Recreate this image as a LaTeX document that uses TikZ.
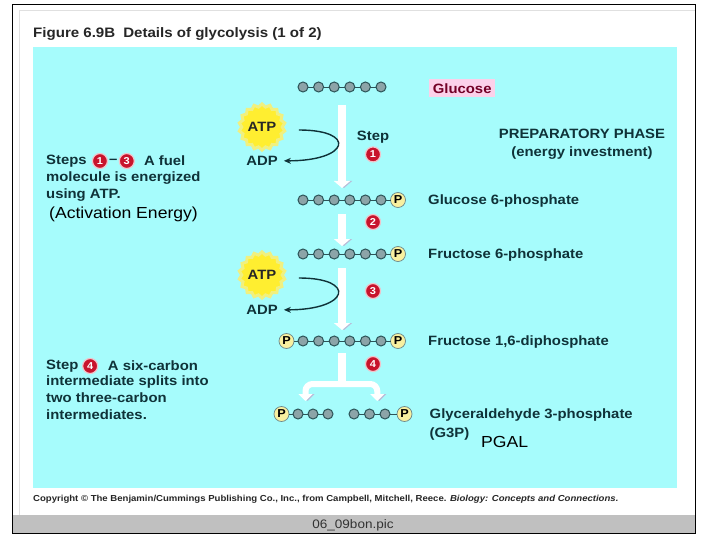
\documentclass[tikz,border=0pt]{standalone}
\usepackage{fontspec}
\setmainfont{Liberation Sans}[FakeStretch=1.1]
\usetikzlibrary{positioning, arrows.meta, shapes.geometric, calc}
\definecolor{panelcol}{HTML}{A6FCFC}
\definecolor{inkcol}{HTML}{0F3238}
\definecolor{barcol}{HTML}{C0C0C0}
\definecolor{carboncol}{HTML}{8CA4A8}
\definecolor{ringcol}{HTML}{2C5458}
\definecolor{phoscol}{HTML}{F8F0A0}
\definecolor{numcol}{HTML}{C8142C}
\definecolor{shadecol}{HTML}{B8BCD8}
\definecolor{atpcol}{HTML}{FFEE30}
\definecolor{halocol}{HTML}{F0F080}

\begin{document}
\begin{tikzpicture}[
        x=1pt, y=-1pt,
        carbon/.style={circle, draw=ringcol, line width=1pt, fill=carboncol, minimum size=10pt, inner sep=0pt, outer sep=0pt},
        phos/.style={circle, draw=ringcol!70, line width=0.7pt, fill=phoscol, minimum size=15pt, inner sep=0pt, outer sep=0pt, font=\fontsize{11.5}{12}\selectfont\bfseries, text=black},
        bond/.style={draw=ringcol, line width=0.9pt},
        txt/.style={inner sep=0pt, anchor=west, text=inkcol, font=\fontsize{13.5}{17}\selectfont\bfseries, align=left},
        added/.style={inner sep=0pt, anchor=west, text=black, font=\fontsize{16}{17}\selectfont},
        num/.style={circle, fill=numcol, draw=numcol!25, line width=1.2pt, minimum size=15pt, inner sep=0pt, text=white, font=\fontsize{10}{10}\selectfont\bfseries},
        atp/.style={star, star points=18, star point ratio=1.14, fill=atpcol, draw=halocol, line width=3pt, minimum size=38pt, inner sep=0pt, text=black!85, font=\fontsize{13.5}{14}\selectfont\bfseries},
        adp/.style={inner sep=0pt, text=inkcol, font=\fontsize{13.5}{14}\selectfont\bfseries},
        flow/.style={draw=white, line width=8pt, preaction={draw=shadecol, transform canvas={xshift=2pt}}},
        curl/.style={draw=inkcol, line width=1.4pt, -{Stealth[length=7pt, width=6pt]}}
    ]
    \useasboundingbox (0,0) rectangle (720,540);
    % Page
    \fill[white] (0,0) rectangle (720,540);
    \fill[panelcol] (33,47) rectangle (677,488);
    \fill[barcol] (13,515) rectangle (695,533);
    \draw[black!12] (19,10) -- (695,10);
    \draw[black!12] (19,10) -- (19,515);
    \draw[black, line width=1pt] (12.5,4.5) rectangle (695.5,533);
    \node[txt, font=\fontsize{13.7}{16}\selectfont\bfseries, text=black!85] (title) at (33,33.5) {Figure 6.9B\hspace{8pt}Details of glycolysis (1 of 2)};

    % Glucose
    \node[carbon] (glu_1) at (303,87) {};
    \node[carbon, right=5.6pt of glu_1] (glu_2) {};
    \node[carbon, right=5.6pt of glu_2] (glu_3) {};
    \node[carbon, right=5.6pt of glu_3] (glu_4) {};
    \node[carbon, right=5.6pt of glu_4] (glu_5) {};
    \node[carbon, right=5.6pt of glu_5] (glu_6) {};
    \draw[bond] (glu_1) -- (glu_2) -- (glu_3) -- (glu_4) -- (glu_5) -- (glu_6);
    \node[rectangle, fill=magenta!18, text=purple!60!black, inner sep=0pt, minimum width=66pt, minimum height=18pt, font=\fontsize{13.5}{16}\selectfont\bfseries, right=43pt of glu_6, yshift=-1.5pt] (glu_name) {Glucose};

    % Glucose 6-phosphate
    \node[carbon, below=103pt of glu_1] (gsp_1) {};
    \node[carbon, right=5.6pt of gsp_1] (gsp_2) {};
    \node[carbon, right=5.6pt of gsp_2] (gsp_3) {};
    \node[carbon, right=5.6pt of gsp_3] (gsp_4) {};
    \node[carbon, right=5.6pt of gsp_4] (gsp_5) {};
    \node[carbon, right=5.6pt of gsp_5] (gsp_6) {};
    \node[phos, right=4.5pt of gsp_6] (gsp_p) {P};
    \draw[bond] (gsp_1) -- (gsp_2) -- (gsp_3) -- (gsp_4) -- (gsp_5) -- (gsp_6) -- (gsp_p);
    \node[txt, right=22.5pt of gsp_p, yshift=-1.5pt] (gsp_name) {Glucose 6-phosphate};

    % Fructose 6-phosphate
    \node[carbon, below=44pt of gsp_1] (fsp_1) {};
    \node[carbon, right=5.6pt of fsp_1] (fsp_2) {};
    \node[carbon, right=5.6pt of fsp_2] (fsp_3) {};
    \node[carbon, right=5.6pt of fsp_3] (fsp_4) {};
    \node[carbon, right=5.6pt of fsp_4] (fsp_5) {};
    \node[carbon, right=5.6pt of fsp_5] (fsp_6) {};
    \node[phos, right=4.5pt of fsp_6] (fsp_p) {P};
    \draw[bond] (fsp_1) -- (fsp_2) -- (fsp_3) -- (fsp_4) -- (fsp_5) -- (fsp_6) -- (fsp_p);
    \node[txt, right=22.5pt of fsp_p, yshift=-1.5pt] (fsp_name) {Fructose 6-phosphate};

    % Fructose 1,6-diphosphate
    \node[carbon, below=77pt of fsp_1] (fdp_1) {};
    \node[carbon, right=5.6pt of fdp_1] (fdp_2) {};
    \node[carbon, right=5.6pt of fdp_2] (fdp_3) {};
    \node[carbon, right=5.6pt of fdp_3] (fdp_4) {};
    \node[carbon, right=5.6pt of fdp_4] (fdp_5) {};
    \node[carbon, right=5.6pt of fdp_5] (fdp_6) {};
    \node[phos, right=4.5pt of fdp_6] (fdp_p) {P};
    \node[phos, left=4pt of fdp_1] (fdp_q) {P};
    \draw[bond] (fdp_q) -- (fdp_1) -- (fdp_2) -- (fdp_3) -- (fdp_4) -- (fdp_5) -- (fdp_6) -- (fdp_p);
    \node[txt, right=22.5pt of fdp_p, yshift=-1.5pt] (fdp_name) {Fructose 1,6-diphosphate};

    % Glyceraldehyde 3-phosphate
    \node[carbon] (g3p_1) at (298,414) {};
    \node[carbon, right=5pt of g3p_1] (g3p_2) {};
    \node[carbon, right=5pt of g3p_2] (g3p_3) {};
    \node[phos, left=4pt of g3p_1] (g3p_q) {P};
    \draw[bond] (g3p_q) -- (g3p_1) -- (g3p_2) -- (g3p_3);
    \node[carbon] (g3p_4) at (354,414) {};
    \node[carbon, right=5.5pt of g3p_4] (g3p_5) {};
    \node[carbon, right=5.5pt of g3p_5] (g3p_6) {};
    \node[phos, right=7pt of g3p_6] (g3p_p) {P};
    \draw[bond] (g3p_4) -- (g3p_5) -- (g3p_6) -- (g3p_p);
    \node[txt, right=17.5pt of g3p_p, yshift=-1.5pt] (g3p_name) {Glyceraldehyde 3-phosphate};
    \node[txt, below=12pt of g3p_name.south west, anchor=west] (g3p_short) {(G3P)};
    \node[added] (pgal) at (481,442) {PGAL};

    % White arrows
    \coordinate (glu_m) at ($(glu_3)!.5!(glu_4)$);
    \coordinate (gsp_m) at ($(gsp_3)!.5!(gsp_4)$);
    \coordinate (fsp_m) at ($(fsp_3)!.5!(fsp_4)$);
    \coordinate (fdp_m) at ($(fdp_3)!.5!(fdp_4)$);
    \coordinate (fork) at ($(fdp_m)+(0,43)$);
    \coordinate (fork_l) at ($(g3p_1)!.5!(g3p_2)+(0,-13)$);
    \coordinate (fork_r) at ($(g3p_5)!.5!(g3p_6)+(0,-13)$);
    \draw[flow, -{Triangle[length=7pt, width=16pt]}, shorten <=18pt, shorten >=12pt] (glu_m) -- (gsp_m);
    \draw[flow, -{Triangle[length=7pt, width=16pt]}, shorten <=14pt, shorten >=8pt] (gsp_m) -- (fsp_m);
    \draw[flow, -{Triangle[length=7pt, width=16pt]}, shorten <=14pt, shorten >=11pt] (fsp_m) -- (fdp_m);
    \draw[flow, shorten <=12pt] (fdp_m) -- (fork);
    \draw[flow, line width=6pt, rounded corners=7pt, {Triangle[length=7pt, width=14pt]}-{Triangle[length=7pt, width=14pt]}] (fork_l) |- (fork) -| (fork_r);

    % Step numbers
    \node[txt, anchor=center] (step_word) at (373,137.5) {Step};
    \node[num, below=2.5pt of step_word] (num_1) {1};
    \node[num] (num_2) at (373,222) {2};
    \node[num] (num_3) at (373,291) {3};
    \node[num] (num_4) at (373,364) {4};

    % ATP and ADP
    \node[atp] (atp_1) at (262,127) {ATP};
    \node[adp, below=29pt of atp_1.center] (adp_1) {ADP};
    \node[atp] (atp_2) at (262,275) {ATP};
    \node[adp, below=30pt of atp_2.center] (adp_2) {ADP};
    \draw[curl] ([xshift=15pt, yshift=-3pt]atp_1.east) .. controls +(58,0) and +(66,0) .. ([xshift=6pt]adp_1.east);
    \draw[curl] ([xshift=15pt, yshift=-3pt]atp_2.east) .. controls +(58,0) and +(66,0) .. ([xshift=6pt]adp_2.east);

    % Phase
    \node[txt, anchor=center] (phase) at (582,134) {PREPARATORY PHASE};
    \node[txt, anchor=center, below=13pt of phase.center] (phase_sub) {(energy investment)};

    % Text on the left
    \node[txt] (s13_a) at (46,161) {Steps};
    \node[num, right=5pt of s13_a] (s13_b) {1};
    \node[txt, right=1pt of s13_b] (s13_c) {--};
    \node[num, right=1pt of s13_c] (s13_d) {3};
    \node[txt, right=9pt of s13_d] (s13_e) {A fuel};
    \node[txt, below=11pt of s13_a.west, anchor=north west] (s13_f) {molecule is energized\\using ATP.};
    \node[added] (activ) at (49,214.5) {(Activation Energy)};
    \node[txt] (s4_a) at (46,366) {Step};
    \node[num, right=3.5pt of s4_a] (s4_b) {4};
    \node[txt, right=9.5pt of s4_b] (s4_c) {A six-carbon};
    \node[txt, below=10pt of s4_a.west, anchor=north west] (s4_d) {intermediate splits into\\two three-carbon\\intermediates.};

    % Bottom
    \node[txt, text=black!85, font=\fontsize{8.7}{10}\selectfont\bfseries] (copy) at (33,499) {Copyright © The Benjamin/Cummings Publishing Co., Inc., from Campbell, Mitchell, Reece. \textit{Biology: Concepts and Connections.}};
    \node[inner sep=0pt, text=black!80, font=\fontsize{12.3}{13}\selectfont] (fname) at (353,525) {06\_09bon.pic};
\end{tikzpicture}
\end{document}
